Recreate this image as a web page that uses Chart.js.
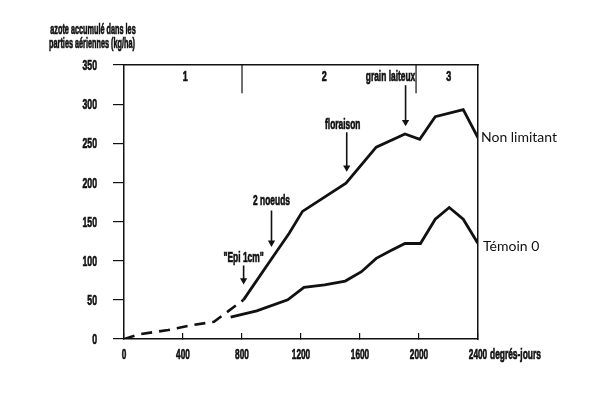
<!DOCTYPE html>
<html><head><meta charset="utf-8">
<script src="https://cdn.jsdelivr.net/npm/chart.js@4/dist/chart.umd.min.js"></script>
<style>html,body{margin:0;padding:0;background:#fff}canvas{display:block}</style>
</head><body>
<canvas id="c" width="599" height="415"></canvas>
<script>
// ---- data ----
const xTickValues = [0, 400, 800, 1200, 1600, 2000, 2400];
const yTickValues = [0, 50, 100, 150, 200, 250, 300, 350];

// common early (dashed) part
const earlyDeg = [0, 100, 300, 470, 610, 810];
const earlyVal = [0, 6, 11.5, 18, 22, 50];

// "Non limitant"
const nonLimDeg = [810, 1010, 1120, 1210, 1505, 1710, 1905, 2005, 2110, 2300, 2400];
const nonLimVal = [50, 105, 135, 163, 199, 245, 262, 255, 284, 293, 257];

// "Témoin 0"
const temDeg = [723, 900, 1110, 1220, 1360, 1500, 1610, 1710, 1810, 1905, 2010, 2110, 2205, 2300, 2400];
const temVal = [28, 36, 50, 66, 69, 74, 86, 103, 113, 122, 122, 153, 168, 153, 122];

const seriesNames = ['Non limitant', 'Témoin 0'];

// phases
const phaseBounds = [800, 1980];
const phaseLabels = ['1', '2', '3'];
const phaseLabelDeg = [416, 1357, 2202];

// stage arrows
const arrowText = ['"Epi 1cm"', '2 noeuds', 'floraison', 'grain laiteux'];
const arrowDeg = [811, 1000, 1510, 1909];
const arrowFrom = [94, 164, 264, 324];
const arrowTo = [75, 123, 219, 277];
const arrowTextDeg = [811, 1000, 1483, 1807];
const arrowTextVal = [104, 176, 273, 335];

const yTitle = ['azote accumulé dans les', 'parties aériennes (kg/ha)'];
const xTitle = 'degrés-jours';

// ---- chart ----
const INK = '#111';
const COND = '"Liberation Sans", Arial, sans-serif';
const toPts = (xs, ys) => xs.map((x, i) => ({x, y: ys[i]}));

const datasets = [
  {data: toPts(earlyDeg, earlyVal), borderColor: INK, borderWidth: 2.6, borderDash: [11, 7], pointRadius: 0, tension: 0},
  {label: seriesNames[0], data: toPts(nonLimDeg, nonLimVal), borderColor: INK, borderWidth: 2.8, pointRadius: 0, tension: 0},
  {label: seriesNames[1], data: toPts(temDeg, temVal), borderColor: INK, borderWidth: 2.8, pointRadius: 0, tension: 0}
];
phaseBounds.forEach(b => datasets.push({
  data: [{x: b, y: 350}, {x: b, y: 314}], borderColor: INK, borderWidth: 1.2, pointRadius: 0
}));
arrowDeg.forEach((d, i) => datasets.push({
  data: [{x: d, y: arrowFrom[i]}, {x: d, y: arrowTo[i]}],
  borderColor: INK, borderWidth: 1.6,
  pointRadius: [0, 4.2], pointStyle: 'triangle', pointRotation: 180,
  pointBackgroundColor: INK, pointBorderWidth: 0
}));

function condText(ctx, txt, x, y, size, sx, align) {
  ctx.save();
  ctx.font = 'bold ' + size + 'px ' + COND;
  ctx.textBaseline = 'middle';
  const w = ctx.measureText(txt).width * sx;
  let left = x;
  if (align === 'center') left = x - w / 2;
  else if (align === 'right') left = x - w;
  ctx.translate(left, y);
  ctx.scale(sx, 1);
  ctx.textAlign = 'left';
  ctx.fillStyle = INK;
  ctx.strokeStyle = INK;
  ctx.lineWidth = 0.7;
  ctx.fillText(txt, 0, 0);
  ctx.strokeText(txt, 0, 0);
  ctx.restore();
}

const textPlugin = {
  id: 'texts',
  afterDraw(chart) {
    const ctx = chart.ctx, xs = chart.scales.x, ys = chart.scales.y, ca = chart.chartArea;
    // tick labels, positioned by the library's scales
    xs.ticks.forEach(t => condText(ctx, String(t.value), xs.getPixelForValue(t.value), ca.bottom + 16, 15, 0.55, 'center'));
    ys.ticks.forEach(t => condText(ctx, String(t.value), ca.left - 27, ys.getPixelForValue(t.value) + 1, 15, 0.58, 'right'));
    // y title
    condText(ctx, yTitle[0], 93, 30, 14, 0.52, 'center');
    condText(ctx, yTitle[1], 92, 44, 14, 0.52, 'center');
    // x title
    condText(ctx, xTitle, ca.right + 12, ca.bottom + 16, 15, 0.56, 'left');
    // phase labels
    phaseLabels.forEach((t, i) => condText(ctx, t, xs.getPixelForValue(phaseLabelDeg[i]), ys.getPixelForValue(335), 15, 0.6, 'center'));
    // arrow labels
    arrowText.forEach((t, i) => condText(ctx, t, xs.getPixelForValue(arrowTextDeg[i]), ys.getPixelForValue(arrowTextVal[i]), 15, 0.56, 'center'));
    // series labels
    ctx.save();
    ctx.font = '14px Lato, "Open Sans", sans-serif';
    ctx.fillStyle = INK;
    ctx.textBaseline = 'middle';
    ctx.textAlign = 'left';
    ctx.fillText(seriesNames[0], ca.right + 3, ys.getPixelForValue(nonLimVal[nonLimVal.length - 1]));
    ctx.fillText(seriesNames[1], ca.right + 5, ys.getPixelForValue(temVal[temVal.length - 1]) + 3);
    ctx.restore();
  }
};

new Chart(document.getElementById('c'), {
  type: 'line',
  data: {datasets},
  options: {
    responsive: false,
    animation: false,
    layout: {padding: {top: 65, right: 121, left: 0, bottom: 0}},
    plugins: {legend: {display: false}, tooltip: {enabled: false}},
    scales: {
      x: {
        type: 'linear', position: 'bottom', min: 0, max: 2400,
        afterBuildTicks: s => { s.ticks = xTickValues.map(v => ({value: v})); },
        afterFit: s => { s.height = 76; },
        grid: {drawOnChartArea: false, tickLength: -6, color: INK, lineWidth: 1.2},
        border: {color: INK, width: 1.5},
        ticks: {display: false}
      },
      y: {
        type: 'linear', position: 'left', min: 0, max: 350,
        afterBuildTicks: s => { s.ticks = yTickValues.map(v => ({value: v})); },
        afterFit: s => { s.width = 124; },
        grid: {drawOnChartArea: false, tickLength: 11, color: INK, lineWidth: 1.2},
        border: {color: INK, width: 1.5},
        ticks: {display: false}
      },
      x2: {
        type: 'linear', position: 'top', min: 0, max: 2400,
        afterFit: s => { s.height = 0; },
        grid: {drawOnChartArea: false, drawTicks: false},
        border: {color: INK, width: 1.5},
        ticks: {display: false}
      },
      y2: {
        type: 'linear', position: 'right', min: 0, max: 350,
        afterFit: s => { s.width = 0; },
        grid: {drawOnChartArea: false, drawTicks: false},
        border: {color: INK, width: 1.5},
        ticks: {display: false}
      }
    }
  },
  plugins: [textPlugin]
});
</script>
</body></html>
